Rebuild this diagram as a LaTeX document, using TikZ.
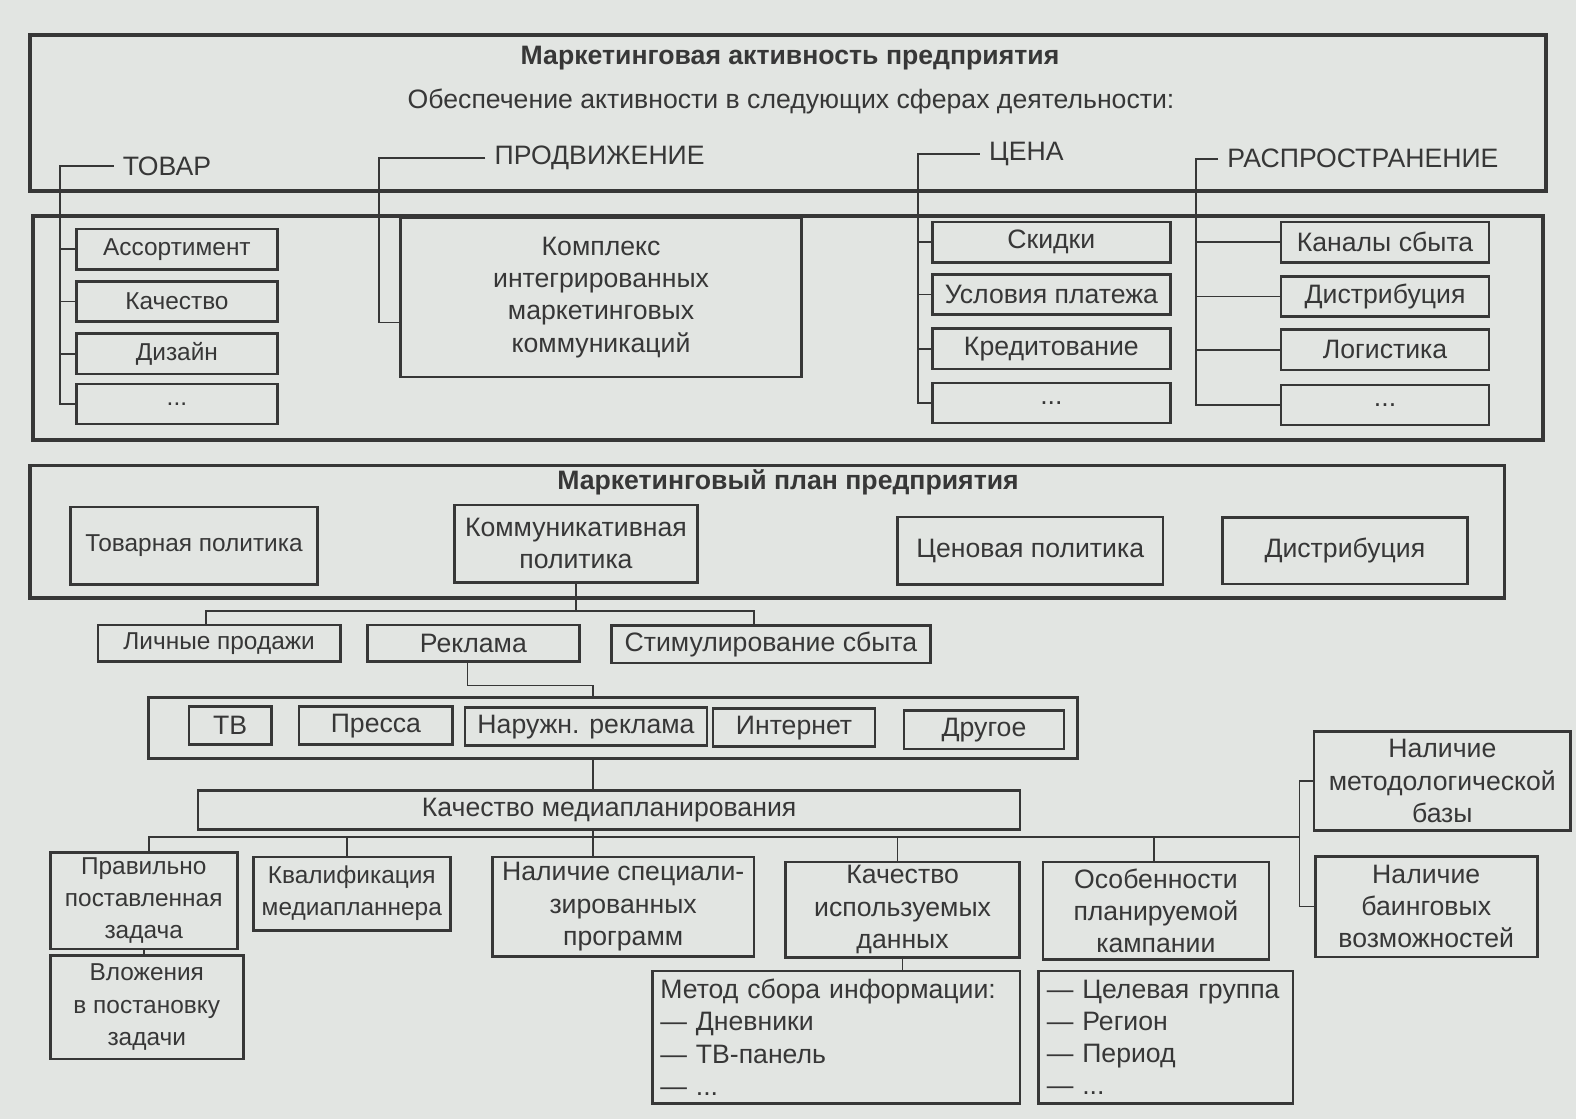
\documentclass[tikz,border=0pt]{standalone}
\usepackage{fontspec}
\setmainfont{Liberation Sans}
\usetikzlibrary{positioning, calc}
\definecolor{PaperGray}{RGB}{226,229,226}
\definecolor{InkGray}{RGB}{55,55,55}

\begin{document}
\begin{tikzpicture}[x=1pt, y=-1pt, font=\fontsize{26.5}{32}\selectfont, color=InkGray,
	frame/.style={draw=InkGray, line width=3.6pt},
	bx/.style={draw=InkGray, line width=2.6pt, inner sep=2pt, align=center},
	nar/.style={font=\fontsize{24.3}{32}\selectfont},
	tbox/.style={bx, nar, minimum width=200pt, minimum height=40pt},
	pbox/.style={bx, minimum width=237pt, minimum height=40pt},
	rbox/.style={bx, minimum width=207pt, minimum height=40pt},
	mbox/.style={bx, minimum height=38pt},
	lbox/.style={bx, align=left, inner sep=8pt, minimum height=132pt},
	cat/.style={anchor=west, inner sep=9pt},
	ln/.style={draw=InkGray, line width=1.7pt}]
	\fill[PaperGray] (0,0) rectangle (1568,1113);
	\useasboundingbox (0,0) rectangle (1568,1113);

	% marketing activity
	\draw[frame] (30,35) rectangle (1538,190);
	\draw[frame] (33,215) rectangle (1535,438);
	\node[font=\fontsize{26.5}{32}\selectfont\bfseries] (akt) at (786,58) {Маркетинговая активность предприятия};
	\node (sfery) at (787,101) {Обеспечение активности в следующих сферах деятельности:};

	\node[cat] (tovar) at (113,165) {ТОВАР};
	\node[cat] (prodv) at (483,157) {ПРОДВИЖЕНИЕ};
	\node[cat] (cena) at (975,153) {ЦЕНА};
	\node[cat] (raspr) at (1212,158) {РАСПРОСТРАНЕНИЕ};
	\coordinate (tvx) at (60,0);
	\coordinate (pvx) at (377,0);
	\coordinate (cnx) at (913,0);
	\coordinate (rsx) at (1190,0);

	\node[tbox] (assort) at (176,248) {Ассортимент};
	\node[tbox] (kach) at (176,300) {Качество};
	\node[tbox] (dizain) at (176,352) {Дизайн};
	\node[tbox] (tdots) at (176,402) {...};

	\node[bx, minimum width=399pt, minimum height=158pt] (kompl) at (598,296)
		{Комплекс\\интегрированных\\маркетинговых\\коммуникаций};

	\node[pbox] (skidki) at (1046,241) {Скидки};
	\node[pbox] (uslov) at (1046,293) {Условия платежа};
	\node[pbox] (kredit) at (1046,347) {Кредитование};
	\node[pbox] (pdots) at (1046,401) {...};

	\node[rbox] (kanaly) at (1378,241) {Каналы сбыта};
	\node[rbox] (distr) at (1378,295) {Дистрибуция};
	\node[rbox] (logist) at (1378,348) {Логистика};
	\node[rbox] (rdots) at (1378,403) {...};

	\draw[ln] (tovar.west) -| (tdots.west -| tvx) -- (tdots.west);
	\foreach \n in {assort, kach, dizain}
		\draw[ln] (\n.west) -- (\n.west -| tvx);
	\draw[ln] (prodv.west) -| ([yshift=-25pt]kompl.west -| pvx) -- ([yshift=-25pt]kompl.west);
	\draw[ln] (cena.west) -| (pdots.west -| cnx) -- (pdots.west);
	\foreach \n in {skidki, uslov, kredit}
		\draw[ln] (\n.west) -- (\n.west -| cnx);
	\draw[ln] (raspr.west) -| (rdots.west -| rsx) -- (rdots.west);
	\foreach \n in {kanaly, distr, logist}
		\draw[ln] (\n.west) -- (\n.west -| rsx);

	% marketing plan
	\draw[frame] (30,463) rectangle (1497,595);
	\node[font=\fontsize{26.5}{32}\selectfont\bfseries] (plan) at (784,480) {Маркетинговый план предприятия};
	\node[bx, nar, minimum width=246pt, minimum height=77pt] (tovpol) at (193,543) {Товарная политика};
	\node[bx, minimum width=242pt, minimum height=77pt] (kommpol) at (573,541) {Коммуникативная\\политика};
	\node[bx, minimum width=264pt, minimum height=67pt] (cenpol) at (1025,548) {Ценовая политика};
	\node[bx, minimum width=244pt, minimum height=66pt] (distrpol) at (1338,548) {Дистрибуция};

	\node[bx, nar, minimum width=241pt, minimum height=36pt] (lichn) at (218,640) {Личные продажи};
	\node[bx, minimum width=211pt, minimum height=36pt] (reklama) at (471,640) {Реклама};
	\node[bx, minimum width=317pt, minimum height=37pt] (stim) at (767,641) {Стимулирование сбыта};
	\coordinate (bus1) at (0,608);
	\draw[ln] (kommpol.south) -- (kommpol.south |- bus1);
	\draw[ln] ([xshift=-13pt]lichn.north) |- ([xshift=-17pt]stim.north |- bus1) -- ([xshift=-17pt]stim.north);

	% media
	\node[bx, line width=3pt, minimum width=924pt, minimum height=61pt] (media) at (610,724) {};
	\node[mbox, minimum width=82pt] (tv) at (229,722) {ТВ};
	\node[mbox, minimum width=153pt] (pressa) at (374,722) {Пресса};
	\node[mbox, minimum width=241pt] (naruzh) at (583,723) {Наружн. реклама};
	\node[mbox, minimum width=161pt] (internet) at (790,724) {Интернет};
	\node[mbox, minimum width=159pt] (drugoe) at (979,726) {Другое};
	\coordinate (rk) at (590,682);
	\coordinate (mx) at (590,0);
	\draw[ln] ([xshift=-6pt]reklama.south) |- (rk) -- (rk |- media.north);

	\node[bx, minimum width=818pt, minimum height=39pt] (kmp) at (606,806) {Качество медиапланирования};
	\draw[ln] (media.south -| mx) -- (kmp.north -| mx);

	\node[bx, nar, minimum width=186pt, minimum height=96pt] (prav) at (143,896) {Правильно\\поставленная\\задача};
	\node[bx, nar, minimum width=196pt, minimum height=73pt] (kval) at (350,889) {Квалификация\\медиапланнера};
	\node[bx, minimum width=260pt, minimum height=99pt] (prog) at (620,902) {Наличие специали-\\зированных\\программ};
	\node[bx, minimum width=233pt, minimum height=95pt] (kdata) at (898,905) {Качество\\используемых\\данных};
	\node[bx, minimum width=225pt, minimum height=97pt] (osob) at (1150,906) {Особенности\\планируемой\\кампании};
	\node[bx, minimum width=255pt, minimum height=98pt] (metod) at (1435,777) {Наличие\\методологической\\базы};
	\node[bx, minimum width=221pt, minimum height=100pt] (baing) at (1419,902) {Наличие\\баинговых\\возможностей};
	\node[bx, nar, minimum width=192pt, minimum height=103pt] (vlozh) at (146,1002) {Вложения\\в постановку\\задачи};
	\node[lbox, text width=350pt] (metsb) at (832,1032)
		{Метод сбора информации:\\— Дневники\\— ТВ-панель\\— ...};
	\node[lbox, text width=237pt] (celgr) at (1160,1032)
		{— Целевая группа\\— Регион\\— Период\\— ...};

	\coordinate (bus2) at (0,833);
	\coordinate (vr) at (1293,0);
	\draw[ln] (kmp.south -| mx) -- (prog.north -| mx);
	\draw[ln] ([xshift=5pt]prav.north) |- (bus2 -| vr);
	\foreach \n/\s in {kval/-5, kdata/-5, osob/-2}
		\draw[ln] ([xshift=\s pt]\n.north) -- ([xshift=\s pt]\n.north |- bus2);
	\draw[ln] (metod.west) -| (baing.west -| vr) -- (baing.west);
	\draw[ln] (prav.south) -- (prav.south |- vlozh.north);
	\draw[ln] (kdata.south) -- (kdata.south |- metsb.north);
\end{tikzpicture}
\end{document}
